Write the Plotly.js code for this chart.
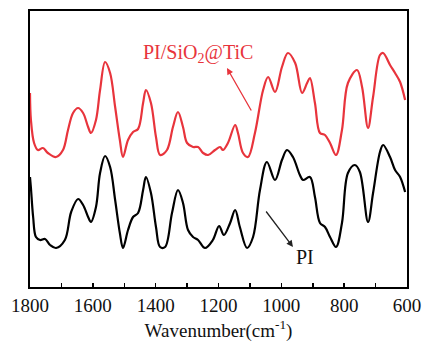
<!DOCTYPE html>
<html>
<head>
<meta charset="utf-8">
<script src="https://cdn.plot.ly/plotly-3.0.1.min.js"></script>
<style>html,body{margin:0;padding:0;background:#fff;}#chart{width:424px;height:342px;}</style>
</head>
<body>
<div id="chart"></div>
<script>
// Wavenumbers (cm-1) and intensities (a.u.)
const redWn = [1800,1797,1787,1775,1759,1743,1717,1695,1679,1663,1647,1631,1615,1606,1590,1577,1561,1545,1529,1514,1504,1488,1472,1456,1440,1431,1415,1399,1386,1364,1345,1329,1313,1300,1281,1265,1249,1233,1211,1195,1186,1170,1147,1138,1122,1106,1084,1058,1042,1020,998,979,956,934,918,909,893,877,861,845,826,807,788,759,743,724,708,686,676,654,638,622,606];
const redVal = [194,167,144,137,139,134,130,137,157,174,179,174,160,154,167,197,225,214,180,147,130,147,155,158,184,197,184,150,132,137,160,175,160,144,140,140,134,132,137,140,137,144,162,154,134,130,154,197,210,195,220,234,224,194,204,209,184,154,152,144,132,157,204,217,200,159,190,232,234,222,214,205,187];

const blackWn = [1800,1797,1790,1781,1768,1752,1736,1717,1689,1669,1647,1631,1615,1606,1590,1577,1561,1545,1529,1514,1504,1488,1472,1456,1440,1431,1415,1399,1386,1370,1348,1329,1313,1297,1281,1265,1243,1218,1198,1183,1163,1147,1132,1109,1090,1068,1046,1020,998,982,963,941,931,909,893,877,861,845,826,807,788,766,750,724,708,686,676,654,638,622,606];
const blackVal = [110,99,70,50,47,48,42,39,47,75,88,82,70,65,80,114,131,120,87,54,39,57,70,74,97,110,94,60,40,40,74,97,84,57,50,47,39,47,61,52,64,77,60,39,50,97,125,107,127,137,130,112,107,110,90,64,60,50,40,64,114,122,115,65,94,135,142,130,117,110,95];

const xTickVals = [1800,1600,1400,1200,1000,800,600];
const seriesNames = ['PI/SiO<sub>2</sub>@TiC','PI'];

const serif = '"Liberation Serif", "Times New Roman", serif';

const traces = [
  {x: redWn, y: redVal, mode:'lines', line:{color:'#e8343c', width:2.2, shape:'spline', smoothing:1}, name: seriesNames[0], hoverinfo:'skip'},
  {x: blackWn, y: blackVal, mode:'lines', line:{color:'#000000', width:2.2, shape:'spline', smoothing:1}, name: seriesNames[1], hoverinfo:'skip'}
];

const layout = {
  width:424, height:342,
  margin:{l:30, r:17, t:11, b:55},
  paper_bgcolor:'#fff', plot_bgcolor:'#fff',
  showlegend:false,
  xaxis:{
    range:[1800,600], tickvals:xTickVals, ticktext:xTickVals.map(String),
    ticks:'inside', ticklen:4, tickwidth:1.5, tickcolor:'#000',
    minor:{dtick:100, tick0:0, ticks:'inside', ticklen:4, tickwidth:1.5, tickcolor:'#000'},
    showline:true, mirror:true, linecolor:'#000', linewidth:2,
    showgrid:false, zeroline:false,
    tickfont:{family:serif, size:19, color:'#111'},
    title:{text:'Wavenumber(cm<sup>-1</sup>)', font:{family:serif, size:19, color:'#111'}, standoff:9}
  },
  yaxis:{
    range:[0,276], showticklabels:false, ticks:'',
    showline:true, mirror:true, linecolor:'#000', linewidth:2,
    showgrid:false, zeroline:false
  },
  annotations:[
    {x:1265, y:234, xref:'x', yref:'y', text:seriesNames[0], showarrow:false,
     font:{family:serif, size:20, color:'#e8343c'}},
    {x:1173, y:219, ax:1093, ay:175, xref:'x', yref:'y', axref:'x', ayref:'y', text:'',
     showarrow:true, arrowhead:2, arrowsize:1, arrowwidth:1.3, arrowcolor:'#e8343c', standoff:0, startstandoff:0},
    {x:925, y:30, xref:'x', yref:'y', text:seriesNames[1], showarrow:false,
     font:{family:serif, size:20, color:'#111'}},
    {x:963, y:40, ax:1052, ay:77, xref:'x', yref:'y', axref:'x', ayref:'y', text:'',
     showarrow:true, arrowhead:2, arrowsize:1, arrowwidth:1.3, arrowcolor:'#222', standoff:0, startstandoff:0}
  ]
};

Plotly.newPlot('chart', traces, layout, {staticPlot:true, displayModeBar:false});
</script>
</body>
</html>
